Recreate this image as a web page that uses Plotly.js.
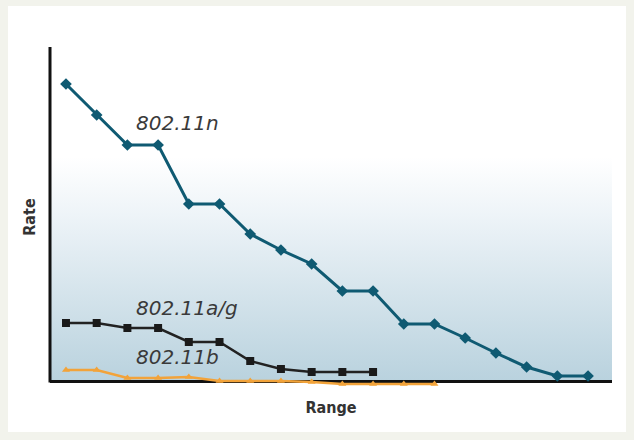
<!DOCTYPE html>
<html>
<head>
<meta charset="utf-8">
<script src="https://cdn.plot.ly/plotly-3.0.1.min.js"></script>
<style>
  html, body { margin: 0; padding: 0; background: #f2f3ec; }
  #card { position: absolute; left: 8px; top: 6px; width: 618px; height: 426px; background: #ffffff; }
  #chart { position: absolute; left: 0; top: 0; width: 634px; height: 440px; }
</style>
</head>
<body>
<div id="card"></div>
<div id="chart"></div>
<script>
// Data (arbitrary units)
const steps = [0,1,2,3,4,5,6,7,8,9,10,11,12,13,14,15,16,17];
const rateN  = [297,266,236,236,177,177,147,131,117,90,90,57,57,43,28,14,5,5];
const rateAG = [58,58,53,53,39,39,20,12,9,9,9];
const rateB  = [11,11,3,3,4,0,0,0,-1,-3,-3,-3,-3];
const seriesNames = ["802.11n", "802.11a/g", "802.11b"];

const gradSvg = '<svg xmlns="http://www.w3.org/2000/svg" width="100" height="100" preserveAspectRatio="none">' +
  '<defs><linearGradient id="g" x1="0" y1="0" x2="0" y2="1">' +
  '<stop offset="0" stop-color="#ffffff"/><stop offset="0.33" stop-color="#ffffff"/>' +
  '<stop offset="0.5" stop-color="#eef4f8"/><stop offset="1" stop-color="#b9d2de"/>' +
  '</linearGradient></defs><rect width="100" height="100" fill="url(#g)"/></svg>';
const gradUri = 'data:image/svg+xml;base64,' + btoa(gradSvg);

const traces = [
  { x: steps.slice(0, rateN.length), y: rateN, name: seriesNames[0], mode: 'lines+markers', cliponaxis: false,
    line: { color: '#0f5a72', width: 3 }, marker: { symbol: 'diamond', size: 9, color: '#0f5a72' } },
  { x: steps.slice(0, rateAG.length), y: rateAG, name: seriesNames[1], mode: 'lines+markers', cliponaxis: false,
    line: { color: '#222222', width: 2.5 }, marker: { symbol: 'square', size: 8, color: '#1a1a1a' } },
  { x: steps.slice(0, rateB.length), y: rateB, name: seriesNames[2], mode: 'lines+markers', cliponaxis: false,
    line: { color: '#f2a33a', width: 2.5 }, marker: { symbol: 'triangle-up', size: 7, color: '#f2a33a' } }
];

const annFont = { family: 'DejaVu Sans, sans-serif', size: 20, color: '#3a3a3a' };
const layout = {
  width: 634, height: 440,
  margin: { l: 50, r: 22, t: 47, b: 53 },
  paper_bgcolor: 'rgba(0,0,0,0)',
  plot_bgcolor: 'rgba(0,0,0,0)',
  showlegend: false,
  font: { family: 'DejaVu Sans Condensed, Liberation Sans Narrow, sans-serif', color: '#333333' },
  xaxis: {
    range: [-0.52, 17.78], showgrid: false, zeroline: false, showticklabels: false, ticks: '',
    showline: false,
    title: { text: '<b>Range</b>', font: { size: 16, color: '#333333' }, standoff: 14 }
  },
  yaxis: {
    range: [-6, 334], showgrid: false, showticklabels: false, ticks: '',
    zeroline: true, zerolinecolor: '#111111', zerolinewidth: 3,
    showline: false,
    title: { text: '<b>Rate</b>', font: { size: 16, color: '#333333' }, standoff: 9 }
  },
  shapes: [
    { type: 'line', xref: 'paper', yref: 'y', x0: 0, x1: 0, y0: -1.5, y1: 334, layer: 'below',
      line: { color: '#111111', width: 3 } }
  ],
  images: [{ source: gradUri, xref: 'paper', yref: 'y', x: 0, y: 334, sizex: 1, sizey: 334,
             sizing: 'stretch', layer: 'below', xanchor: 'left', yanchor: 'top' }],
  annotations: [
    { text: '<i>802.11n</i>', x: 2.22, y: 258, xanchor: 'left', showarrow: false, font: annFont },
    { text: '<i>802.11a/g</i>', x: 2.22, y: 73, xanchor: 'left', showarrow: false, font: annFont },
    { text: '<i>802.11b</i>', x: 2.22, y: 24, xanchor: 'left', showarrow: false, font: annFont }
  ]
};

Plotly.newPlot('chart', traces, layout, { displayModeBar: false, staticPlot: true });
</script>
</body>
</html>
